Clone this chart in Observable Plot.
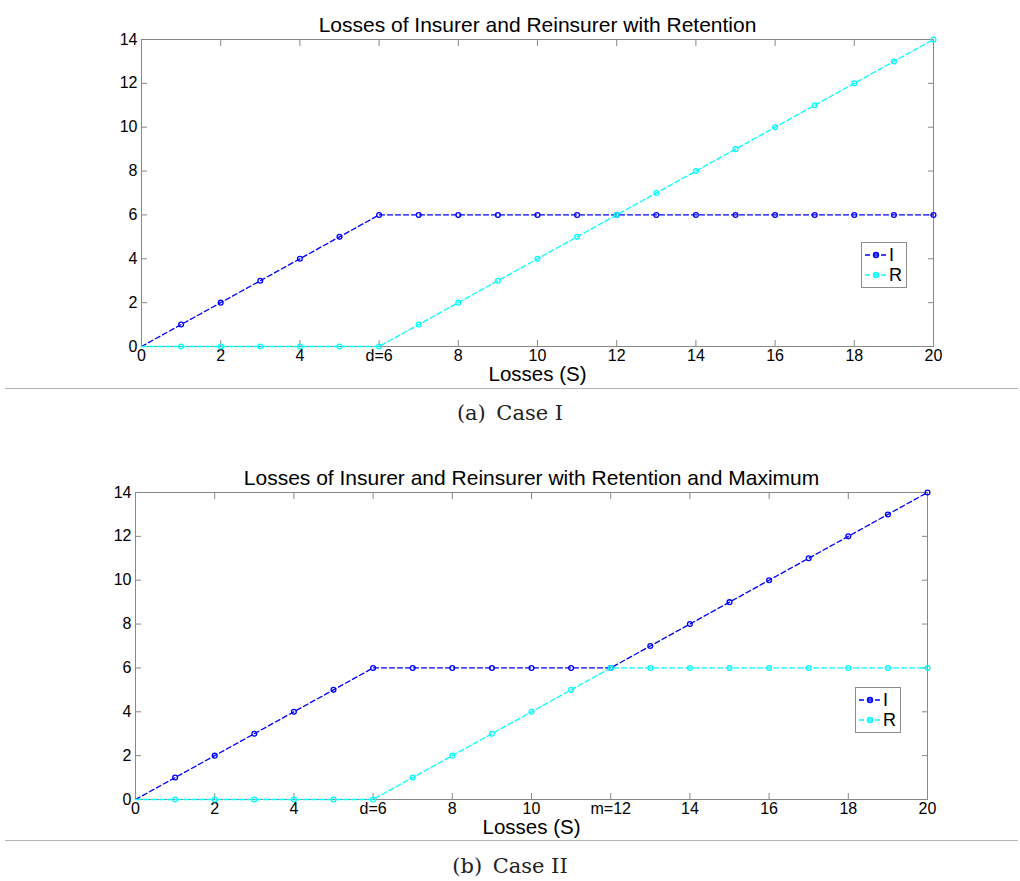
<!DOCTYPE html>
<html>
<head>
<meta charset="utf-8">
<script src="https://cdn.jsdelivr.net/npm/d3@7"></script>
<script src="https://cdn.jsdelivr.net/npm/@observablehq/plot@0.6"></script>
<style>
  html, body { margin: 0; padding: 0; background: #fff; }
  #root { position: relative; width: 1020px; height: 881px; overflow: hidden; font-family: "Liberation Sans", Arial, sans-serif; }
  .chart { position: absolute; left: 0; }
  .sep { position: absolute; left: 5px; width: 1013px; height: 0; border-top: 1px solid #b4b4b4; }
  .caption { position: absolute; left: 0; width: 1020px; text-align: center; font-family: "DejaVu Serif", "Liberation Serif", serif; font-size: 21px; color: #222; }
  .legend { position: absolute; border: 1px solid #8c8c8c; background: #fff; }
</style>
</head>
<body>
<div id="root"></div>
<script>
// ---- data ----
const S = [0,1,2,3,4,5,6,7,8,9,10,11,12,13,14,15,16,17,18,19,20];
const insurer1   = [0,1,2,3,4,5,6,6,6,6,6,6,6,6,6,6,6,6,6,6,6];
const reinsurer1 = [0,0,0,0,0,0,0,1,2,3,4,5,6,7,8,9,10,11,12,13,14];
const insurer2   = [0,1,2,3,4,5,6,6,6,6,6,6,6,7,8,9,10,11,12,13,14];
const reinsurer2 = [0,0,0,0,0,0,0,1,2,3,4,5,6,6,6,6,6,6,6,6,6];
const xTicks = [0,2,4,6,8,10,12,14,16,18,20];
const xTickLabels1 = ["0","2","4","d=6","8","10","12","14","16","18","20"];
const xTickLabels2 = ["0","2","4","d=6","8","10","m=12","14","16","18","20"];
const yTicks = [0,2,4,6,8,10,12,14];
const seriesNames = ["I","R"];
const colors = ["#0000ff","#00ffff"];
const titles = ["Losses of Insurer and Reinsurer with Retention",
                "Losses of Insurer and Reinsurer with Retention and Maximum"];
const captions = ["(a)\u2002Case I", "(b)\u2002Case II"];

function makeChart(I, R, tickLabels, title, mL, mR) {
  const rows = [];
  S.forEach((s, i) => {
    rows.push({s, v: I[i], k: "I"});
    rows.push({s, v: R[i], k: "R"});
  });
  const markers = rows.filter(d => d.s > 0);
  const axisColor = "#888";
  return Plot.plot({
    width: 1020,
    height: 395,
    marginLeft: mL,
    marginRight: mR,
    marginTop: 39,
    marginBottom: 49,
    style: {fontFamily: "Liberation Sans, Arial, sans-serif", fontSize: "16px", color: "#000", background: "transparent"},
    x: {domain: [0, 20]},
    y: {domain: [0, 14]},
    color: {domain: seriesNames, range: colors},
    marks: [
      Plot.frame({stroke: axisColor, strokeWidth: 1}),
      // inward ticks on all sides
      Plot.axisX(xTicks, {anchor: "bottom", tickSize: 6, dy: -6, tickFormat: () => "", stroke: axisColor, label: null}),
      Plot.axisX(xTicks, {anchor: "top", tickSize: 6, dy: 6, tickFormat: () => "", stroke: axisColor, label: null}),
      Plot.axisY(yTicks, {anchor: "left", tickSize: 6, dx: 6, tickFormat: () => "", stroke: axisColor, label: null}),
      Plot.axisY(yTicks, {anchor: "right", tickSize: 6, dx: -6, tickFormat: () => "", stroke: axisColor, label: null}),
      // tick labels
      Plot.axisX(xTicks, {anchor: "bottom", tickSize: 0, tickPadding: 3, tickFormat: (d) => tickLabels[xTicks.indexOf(d)], label: null, fontSize: 16}),
      Plot.axisY(yTicks, {anchor: "left", tickSize: 0, tickPadding: 4, label: null, fontSize: 16}),
      Plot.lineY(rows, {x: "s", y: "v", z: "k", stroke: "k", strokeWidth: 1.3, strokeDasharray: "5,3"}),
      Plot.dot(markers, {x: "s", y: "v", stroke: "k", r: 2.4, strokeWidth: 1.3, fill: "none"}),
      Plot.text([title], {frameAnchor: "top", dy: -22, fontSize: 21, fill: "#000"}),
      Plot.text(["Losses (S)"], {frameAnchor: "bottom", dy: 34, fontSize: 20.5, fill: "#000"})
    ]
  });
}

function legendHTML() {
  let html = "";
  seriesNames.forEach((n, i) => {
    html += `<div style="display:flex;align-items:center;height:20px;">
      <svg width="26" height="20" style="display:block">
        <line x1="2" y1="10" x2="24" y2="10" stroke="${colors[i]}" stroke-width="1.3" stroke-dasharray="5,3"/>
        <circle cx="13" cy="10" r="2.4" fill="none" stroke="${colors[i]}" stroke-width="1.6"/>
      </svg>
      <span style="font-size:18px;line-height:20px;margin-left:0px;">${n}</span></div>`;
  });
  return html;
}

const root = document.getElementById("root");
const configs = [
  {I: insurer1, R: reinsurer1, labels: xTickLabels1, top: 0, mL: 141, mR: 87, sep: 388, cap: 401, leg: [861, 242]},
  {I: insurer2, R: reinsurer2, labels: xTickLabels2, top: 453, mL: 135, mR: 93, sep: 840, cap: 854, leg: [855, 687]}
];
configs.forEach((c, i) => {
  const chart = makeChart(c.I, c.R, c.labels, titles[i], c.mL, c.mR);
  chart.classList.add("chart");
  chart.style.top = c.top + "px";
  root.appendChild(chart);
  const sep = document.createElement("div");
  sep.className = "sep";
  sep.style.top = c.sep + "px";
  root.appendChild(sep);
  const cap = document.createElement("div");
  cap.className = "caption";
  cap.style.top = c.cap + "px";
  cap.textContent = captions[i];
  root.appendChild(cap);
  const leg = document.createElement("div");
  leg.className = "legend";
  leg.style.left = c.leg[0] + "px";
  leg.style.top = c.leg[1] + "px";
  leg.style.padding = "2px 4px 2px 1px";
  leg.innerHTML = legendHTML();
  root.appendChild(leg);
});
</script>
</body>
</html>
